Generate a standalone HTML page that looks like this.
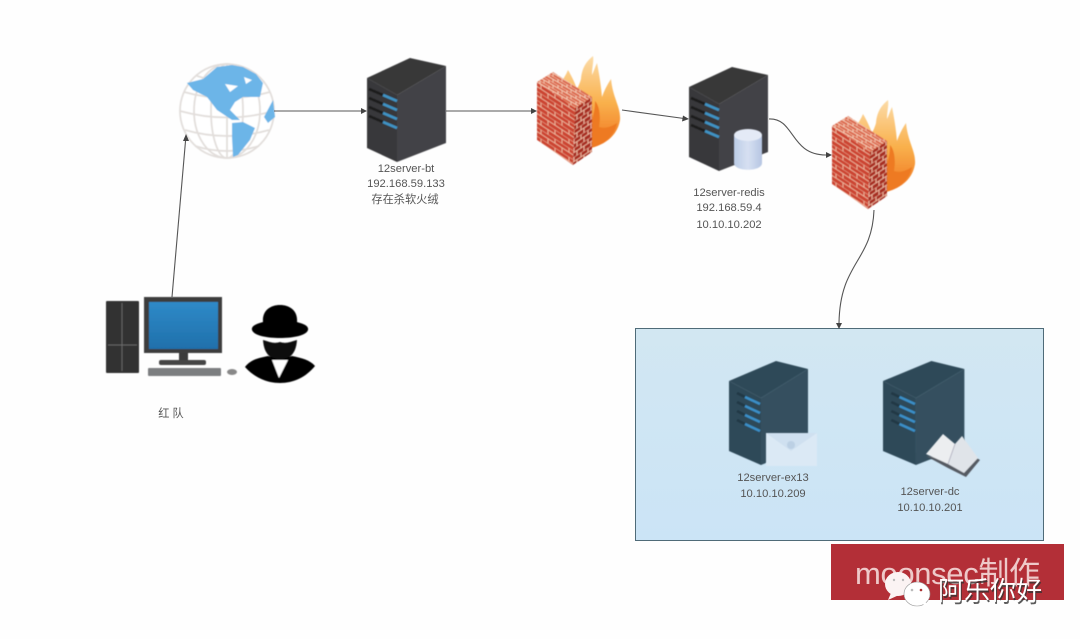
<!DOCTYPE html>
<html>
<head>
<meta charset="utf-8">
<style>
html,body{margin:0;padding:0;background:#fefefe;width:1080px;height:639px;overflow:hidden}
svg{display:block}
text{font-family:"Liberation Sans","Noto Sans CJK SC",sans-serif}
.l{font-size:11.2px;fill:#555;text-anchor:middle;filter:url(#t)}
.c{fill:none;stroke:#555;stroke-width:1.1}
</style>
</head>
<body>
<svg width="1080" height="639" viewBox="0 0 1080 639" xmlns="http://www.w3.org/2000/svg">
<defs>
<filter id="t"><feGaussianBlur stdDeviation="0.3"/></filter>
<filter id="b"><feGaussianBlur stdDeviation="0.6"/></filter>
<linearGradient id="box" x1="0" y1="0" x2="0" y2="1"><stop offset="0" stop-color="#d2e7f2"/><stop offset="1" stop-color="#cbe4f6"/></linearGradient>
<linearGradient id="scr" x1="0" y1="0" x2="0" y2="1"><stop offset="0" stop-color="#2f8ac8"/><stop offset="1" stop-color="#1f70ab"/></linearGradient>
<linearGradient id="flame" x1="0" y1="0" x2="0" y2="1"><stop offset="0" stop-color="#fcdca8"/><stop offset=".5" stop-color="#f9b04c"/><stop offset="1" stop-color="#ef701c"/></linearGradient>
<linearGradient id="cyl" x1="0" y1="0" x2="1" y2="0"><stop offset="0" stop-color="#bccce6"/><stop offset=".5" stop-color="#d6e0f2"/><stop offset="1" stop-color="#b6c6e2"/></linearGradient>
<pattern id="brickL" width="14" height="9" patternUnits="userSpaceOnUse" patternTransform="skewY(33)">
<rect width="14" height="9" fill="#cc4433"/>
<path d="M0 0H14M0 4.5H14M4 0V4.5M11 4.5V9" stroke="#efb89e" stroke-width="1" fill="none"/>
</pattern>
<pattern id="brickR" width="7" height="9" patternUnits="userSpaceOnUse" patternTransform="skewY(-33)">
<rect width="7" height="9" fill="#a82d22"/>
<path d="M0 0H7M0 4.5H7M2 0V4.5M5 4.5V9" stroke="#eeb8a0" stroke-width="1" fill="none"/>
</pattern>
<pattern id="brickT" width="9" height="6" patternUnits="userSpaceOnUse" patternTransform="skewY(30)">
<rect width="9" height="6" fill="#dc6a50"/>
<path d="M0 0H9M0 3H9M3 0V3M7 3V6" stroke="#f6d0b8" stroke-width=".9" fill="none"/>
</pattern>
<g id="fw">
<g filter="url(#b)">
<path d="M40 95C62 94 80 84 83 65C84 52 76 44 74 24C70 30 67 36 65 42C64 30 62 18 60 8C58 12 57 16 55 20C55 12 57 6 56 1C50 6 45 12 44 24C43 28 41 32 40 34C37 26 34 20 31 15C29 20 26 24 24 28Z" fill="url(#flame)"/>
<path d="M52 92C66 90 78 80 80 68C74 72 68 74 62 72C64 60 62 50 58 46C58 60 54 66 52 72Z" fill="#ee7a20"/>
<path d="M0 27L38 53L36 110L0 85Z" fill="url(#brickL)"/>
<path d="M38 53L55 42V97L36 110Z" fill="url(#brickR)"/>
<path d="M0 27L16 17L55 42L38 53Z" fill="url(#brickT)"/>
</g>
</g>
<g id="srvD">
<g filter="url(#b)">
<path d="M0 20L43 0L79 8L30 37Z" fill="#373739"/>
<path d="M0 20L30 37V104L0 90Z" fill="#38383a"/>
<path d="M30 37L79 8V85L30 104Z" fill="#434346"/>
<path d="M2 31L16 37M2 40L16 46M2 49L16 55M2 58L16 64" stroke="#1e1e1e" stroke-width="2.6"/>
<path d="M16 37L30 43M16 46L30 52M16 55L30 61M16 64L30 70" stroke="#3f93c4" stroke-width="2.6"/>
</g>
</g>
<g id="srvB">
<g filter="url(#b)">
<path d="M0 20L47 0L79 8L32 37Z" fill="#2e4858"/>
<path d="M0 20L32 37V104L0 90Z" fill="#2e4858"/>
<path d="M32 37L79 8V85L32 104Z" fill="#34505f"/>
<path d="M8 32L16 36M8 41L16 45M8 50L16 54M8 59L16 63" stroke="#223745" stroke-width="2.6"/>
<path d="M16 36L31 43M16 45L31 52M16 54L31 61M16 63L31 70" stroke="#3a8fc8" stroke-width="2.6"/>
</g>
</g>
</defs>

<rect width="1080" height="639" fill="#fefefe"/>

<!-- group box -->
<rect x="635.5" y="328.5" width="408" height="212" fill="url(#box)" stroke="#4f6b78" stroke-width="1"/>

<!-- globe -->
<g filter="url(#b)">
<circle cx="227" cy="111" r="48" fill="#fff"/>
<g fill="none" stroke="#e2dedb" stroke-width="1.8">
<circle cx="227" cy="111" r="47"/>
<ellipse cx="227" cy="111" rx="16" ry="47"/>
<ellipse cx="227" cy="111" rx="33" ry="47"/>
<path d="M227 64V158"/>
<path d="M184 92Q227 104 270 92M180 111Q227 124 274 111M185 130Q227 142 269 130M195 146Q227 156 259 146M197 76Q227 86 257 76"/>
</g>
<path d="M187 83L203 79L217 67L232 65L243 67L256 74L263 83L260 97L243 97L235 102L230 110L240 120L232 120L217 110L207 97L193 90Z" fill="#6cb5e8"/>
<path d="M232 123L243 122L255 128L250 140L238 155L233 157L232 137Z" fill="#6cb5e8"/>
<path d="M264 117L273 100L275 117L268 123Z" fill="#6cb5e8"/>
<path d="M225 84L238 86L230 92Z" fill="#fff"/>
<path d="M244 77L252 80L246 84Z" fill="#fff"/>
</g>

<!-- servers -->
<use href="#srvD" x="367" y="58"/>
<use href="#srvD" x="689" y="67"/>
<use href="#srvB" x="729" y="361"/>
<use href="#srvB" transform="translate(883,361) scale(1.03,1)"/>

<!-- cylinder on redis -->
<g filter="url(#b)">
<path d="M734 135V163C734 172 762 172 762 163V135Z" fill="url(#cyl)"/>
<ellipse cx="748" cy="135" rx="14" ry="6" fill="#e4eaf6"/>
</g>

<!-- mail icon -->
<g filter="url(#b)">
<rect x="766" y="433" width="51" height="33" fill="#dbe9f5"/>
<path d="M766 433L791 451L817 433Z" fill="#cfe0f0"/>
<circle cx="791" cy="445" r="4" fill="#bcd0e4"/>
</g>

<!-- book icon -->
<g filter="url(#b)">
<path d="M926 456L948 468L966 477L980 460L972 455L950 460Z" fill="#555a62"/>
<path d="M926 454L943 434L955 444L948 464Z" fill="#eceef0"/>
<path d="M948 464L955 444L962 436L978 458L964 473Z" fill="#e0e4e9"/>
<path d="M948 464L955 444" stroke="#aab" stroke-width=".8"/>
</g>

<!-- firewalls -->
<use href="#fw" x="537" y="55"/>
<use href="#fw" x="832" y="99"/>

<!-- PC -->
<g filter="url(#b)">
<rect x="106" y="301" width="33" height="72" rx="1" fill="#333"/>
<path d="M122 303V371M108 345H137" stroke="#777" stroke-width=".7"/>
<rect x="144" y="297" width="78" height="56" fill="#3d3d3d"/>
<rect x="149" y="302" width="69" height="47" fill="url(#scr)"/>
<rect x="179" y="353" width="9" height="7" fill="#3a3a3a"/>
<rect x="159" y="360" width="47" height="5" rx="2" fill="#444"/>
<rect x="148" y="368" width="73" height="8" rx="1" fill="#7c7e80"/>
<ellipse cx="232" cy="372" rx="5" ry="3" fill="#888"/>
</g>

<!-- hacker -->
<g filter="url(#b)">
<path d="M263 322C262 311 270 305 280 305C290 305 298 311 297 322C304 324 309 326 308 330C306 336 292 338 280 338C268 338 254 336 252 330C251 326 256 324 263 322Z" fill="#000"/>
<path d="M263 340C270 342 274 344 280 342C286 344 290 342 297 340C296 352 292 358 280 361C268 358 264 352 263 340Z" fill="#0a0a0a"/>
<path d="M245 367C250 360 258 358 268 356L280 360L292 356C302 358 310 360 315 366C306 377 294 383 280 383C266 383 254 377 245 367Z" fill="#000"/>
<path d="M272 360L288 360L279 378Z" fill="#fff"/>
</g>

<!-- connectors -->
<path class="c" d="M172 297L185.6 140"/>
<path d="M186 134L183 141H189Z" fill="#444"/>
<path class="c" d="M274 111H362"/>
<path d="M367 111L361 108V114Z" fill="#444"/>
<path class="c" d="M446 111H532"/>
<path d="M537 111L531 108V114Z" fill="#444"/>
<path class="c" d="M622 110L684 118.5"/>
<path d="M689 119L683 115.5L682 121.5Z" fill="#444"/>
<path class="c" d="M769 119C795 118 790 155 826 155"/>
<path d="M832 155L826 152V158Z" fill="#444"/>
<path class="c" d="M874 210C872 262 840 262 839 323"/>
<path d="M839 329L836 323H842Z" fill="#444"/>

<!-- labels -->
<text class="l" x="406" y="172">12server-bt</text>
<text class="l" x="406" y="187">192.168.59.133</text>
<text class="l" x="405" y="203">存在杀软火绒</text>
<text class="l" x="729" y="196">12server-redis</text>
<text class="l" x="729" y="211">192.168.59.4</text>
<text class="l" x="729" y="228">10.10.10.202</text>
<text class="l" x="773" y="481">12server-ex13</text>
<text class="l" x="773" y="497">10.10.10.209</text>
<text class="l" x="930" y="495">12server-dc</text>
<text class="l" x="930" y="511">10.10.10.201</text>
<text class="l" x="171" y="417">红 队</text>

<!-- watermark box -->
<rect x="831" y="544" width="233" height="56" fill="#b32f37"/>
<text x="855" y="584" font-size="31" fill="#eec9c9" textLength="185" lengthAdjust="spacing" filter="url(#t)">moonsec制作</text>
<g filter="url(#t)">
<ellipse cx="898" cy="584" rx="13" ry="12" fill="#fbf3f3"/>
<path d="M891 593L888 600L899 595Z" fill="#fbf3f3"/>
<ellipse cx="917" cy="594" rx="13" ry="12" fill="#fff" stroke="#999" stroke-width=".6"/>
<path d="M921 603L928 607L925 601Z" fill="#fff"/>
<circle cx="894" cy="580" r="1.2" fill="#bbb"/>
<circle cx="903" cy="580" r="1.2" fill="#bbb"/>
<circle cx="912" cy="590" r="1.3" fill="#bbb"/>
<circle cx="921" cy="590" r="1.3" fill="#a33"/>
</g>
<text x="939" y="602" font-size="26" fill="#333" textLength="104" opacity=".8">阿乐你好</text>
<text x="938" y="600" font-size="26" fill="#fff" textLength="104">阿乐你好</text>
</svg>
</body>
</html>
